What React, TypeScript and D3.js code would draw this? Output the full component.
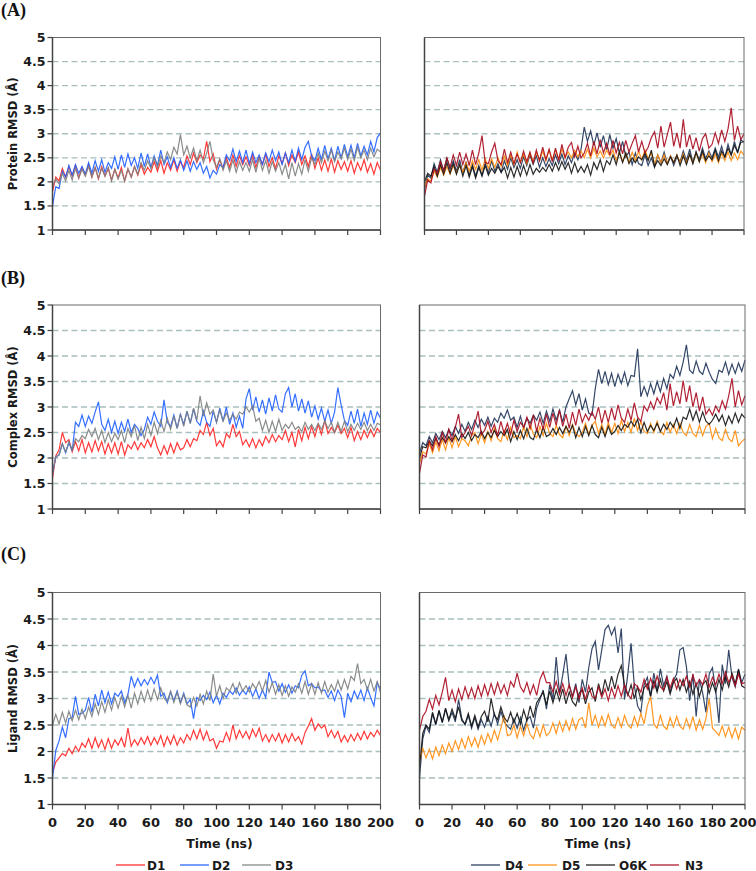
import React from 'react';
import * as d3 from 'd3';

const TIME_STEP = 2;
const TIME_MAX = 200;
const X_TICKS = [0, 20, 40, 60, 80, 100, 120, 140, 160, 180, 200];
const Y_TICKS = [1, 1.5, 2, 2.5, 3, 3.5, 4, 4.5, 5];
const GRID_VALUES = [1.5, 2, 2.5, 3, 3.5, 4, 4.5];
const PANEL_LABELS = ['(A)', '(B)', '(C)'];
const Y_TITLES = ['Protein RMSD (Å)', 'Complex RMSD (Å)', 'Ligand RMSD (Å)'];
const X_TITLE = 'Time (ns)';
const LEFT_SERIES = ['D1', 'D2', 'D3'];
const RIGHT_SERIES = ['D4', 'D5', 'O6K', 'N3'];
const COLORS: Record<string, string> = {
  D1: '#ff2424',
  D2: '#1f5fff',
  D3: '#7d8080',
  D4: '#1f3358',
  D5: '#ff8c0a',
  O6K: '#141414',
  N3: '#a80a1e',
};

// ---------------- (A) Protein RMSD ----------------
const PROTEIN_D1 = [
  1.80, 2.10, 2.02, 2.28, 2.10, 2.32, 2.12, 2.34, 2.08, 2.30,
  2.14, 2.36, 2.10, 2.30, 2.06, 2.32, 2.12, 2.28, 2.04, 2.26,
  2.08, 2.30, 2.02, 2.26, 2.10, 2.32, 2.14, 2.36, 2.16, 2.30,
  2.20, 2.42, 2.22, 2.44, 2.18, 2.40, 2.24, 2.46, 2.22, 2.42,
  2.30, 2.54, 2.36, 2.60, 2.40, 2.56, 2.48, 2.84, 2.42, 2.58,
  2.26, 2.46, 2.28, 2.50, 2.30, 2.56, 2.32, 2.54, 2.36, 2.52,
  2.34, 2.56, 2.30, 2.52, 2.36, 2.58, 2.32, 2.50, 2.28, 2.54,
  2.38, 2.60, 2.34, 2.56, 2.40, 2.62, 2.36, 2.54, 2.32, 2.58,
  2.28, 2.50, 2.24, 2.46, 2.22, 2.48, 2.20, 2.44, 2.26, 2.42,
  2.22, 2.44, 2.18, 2.40, 2.24, 2.46, 2.20, 2.38, 2.16, 2.40,
  2.24,
];
const PROTEIN_D2 = [
  1.50, 1.90, 1.86, 2.22, 2.10, 2.34, 2.14, 2.36, 2.18, 2.32,
  2.16, 2.40, 2.18, 2.44, 2.22, 2.46, 2.20, 2.40, 2.28, 2.52,
  2.26, 2.56, 2.30, 2.58, 2.34, 2.50, 2.28, 2.60, 2.32, 2.58,
  2.30, 2.54, 2.34, 2.66, 2.36, 2.52, 2.30, 2.50, 2.28, 2.46,
  2.24, 2.44, 2.22, 2.42, 2.26, 2.40, 2.18, 2.32, 2.08, 2.24,
  2.16, 2.36, 2.30, 2.56, 2.44, 2.68, 2.42, 2.64, 2.40, 2.66,
  2.38, 2.62, 2.40, 2.56, 2.36, 2.60, 2.42, 2.66, 2.44, 2.62,
  2.36, 2.60, 2.40, 2.66, 2.42, 2.70, 2.46, 2.72, 2.84, 2.54,
  2.44, 2.70, 2.46, 2.76, 2.48, 2.70, 2.44, 2.74, 2.50, 2.78,
  2.52, 2.76, 2.50, 2.80, 2.54, 2.74, 2.56, 2.84, 2.62, 2.92,
  3.02,
];
const PROTEIN_D3 = [
  1.90, 2.06, 1.96, 2.18, 2.02, 2.24, 2.04, 2.28, 2.08, 2.26,
  2.12, 2.32, 2.10, 2.30, 2.08, 2.28, 2.12, 2.30, 2.02, 2.26,
  2.06, 2.24, 2.02, 2.28, 2.10, 2.32, 2.16, 2.40, 2.24, 2.44,
  2.28, 2.50, 2.30, 2.54, 2.40, 2.62, 2.46, 2.72, 2.58, 2.98,
  2.56, 2.74, 2.50, 2.70, 2.44, 2.66, 2.40, 2.60, 2.84, 2.46,
  2.30, 2.48, 2.24, 2.44, 2.22, 2.46, 2.20, 2.42, 2.24, 2.40,
  2.22, 2.46, 2.20, 2.50, 2.24, 2.44, 2.18, 2.42, 2.22, 2.40,
  2.16, 2.36, 2.06, 2.40, 2.12, 2.38, 2.16, 2.46, 2.22, 2.50,
  2.36, 2.60, 2.40, 2.64, 2.44, 2.66, 2.42, 2.62, 2.48, 2.70,
  2.46, 2.68, 2.44, 2.72, 2.50, 2.66, 2.46, 2.70, 2.52, 2.68,
  2.62,
];
const PROTEIN_D4 = [
  1.85, 2.14, 2.08, 2.38, 2.20, 2.46, 2.22, 2.50, 2.26, 2.44,
  2.22, 2.46, 2.18, 2.42, 2.14, 2.36, 2.12, 2.34, 2.14, 2.40,
  2.18, 2.44, 2.22, 2.38, 2.20, 2.44, 2.26, 2.50, 2.30, 2.46,
  2.28, 2.52, 2.34, 2.56, 2.36, 2.54, 2.30, 2.50, 2.32, 2.48,
  2.34, 2.56, 2.38, 2.58, 2.36, 2.54, 2.40, 2.60, 2.46, 2.68,
  3.14, 2.84, 3.06, 2.76, 3.02, 2.72, 2.96, 2.66, 2.98, 2.70,
  2.90, 2.60, 2.84, 2.52, 2.62, 2.36, 2.60, 2.38, 2.34, 2.56,
  2.34, 2.50, 2.30, 2.56, 2.40, 2.62, 2.38, 2.54, 2.34, 2.52,
  2.42, 2.64, 2.44, 2.68, 2.40, 2.62, 2.46, 2.70, 2.48, 2.64,
  2.50, 2.70, 2.52, 2.74, 2.50, 2.78, 2.56, 2.84, 2.60, 2.88,
  2.82,
];
const PROTEIN_D5 = [
  1.90, 2.06, 2.02, 2.22, 2.10, 2.30, 2.14, 2.32, 2.16, 2.34,
  2.18, 2.36, 2.20, 2.40, 2.22, 2.44, 2.26, 2.46, 2.24, 2.48,
  2.28, 2.48, 2.30, 2.50, 2.32, 2.54, 2.34, 2.56, 2.36, 2.62,
  2.40, 2.58, 2.38, 2.60, 2.42, 2.62, 2.44, 2.64, 2.44, 2.66,
  2.46, 2.66, 2.48, 2.68, 2.50, 2.62, 2.50, 2.66, 2.52, 2.64,
  2.50, 2.68, 2.50, 2.70, 2.52, 2.64, 2.50, 2.66, 2.54, 2.66,
  2.44, 2.62, 2.42, 2.60, 2.40, 2.62, 2.44, 2.64, 2.46, 2.66,
  2.48, 2.60, 2.38, 2.56, 2.40, 2.56, 2.38, 2.54, 2.40, 2.56,
  2.40, 2.58, 2.40, 2.56, 2.40, 2.60, 2.42, 2.58, 2.40, 2.60,
  2.42, 2.58, 2.40, 2.60, 2.44, 2.62, 2.44, 2.60, 2.46, 2.64,
  2.56,
];
const PROTEIN_O6K = [
  2.00, 2.18, 2.12, 2.32, 2.12, 2.36, 2.16, 2.40, 2.18, 2.38,
  2.16, 2.36, 2.12, 2.34, 2.10, 2.32, 2.08, 2.30, 2.12, 2.34,
  2.14, 2.28, 2.18, 2.32, 2.20, 2.30, 2.08, 2.30, 2.10, 2.32,
  2.12, 2.34, 2.14, 2.36, 2.16, 2.28, 2.20, 2.30, 2.22, 2.36,
  2.22, 2.40, 2.24, 2.42, 2.26, 2.40, 2.18, 2.40, 2.20, 2.32,
  2.20, 2.36, 2.14, 2.40, 2.26, 2.46, 2.22, 2.44, 2.36, 2.56,
  2.36, 2.62, 2.40, 2.60, 2.38, 2.50, 2.40, 2.52, 2.46, 2.60,
  2.44, 2.66, 2.32, 2.44, 2.34, 2.48, 2.36, 2.52, 2.40, 2.56,
  2.34, 2.54, 2.36, 2.58, 2.38, 2.62, 2.42, 2.64, 2.44, 2.54,
  2.46, 2.66, 2.44, 2.64, 2.52, 2.70, 2.56, 2.76, 2.62, 2.82,
  2.84,
];
const PROTEIN_N3 = [
  1.70, 2.04, 1.98, 2.26, 2.18, 2.42, 2.24, 2.50, 2.30, 2.56,
  2.34, 2.62, 2.36, 2.58, 2.34, 2.66, 2.36, 2.60, 2.96, 2.40,
  2.38, 2.62, 2.80, 2.44, 2.36, 2.68, 2.40, 2.62, 2.38, 2.58,
  2.40, 2.64, 2.42, 2.62, 2.38, 2.66, 2.44, 2.72, 2.46, 2.68,
  2.42, 2.70, 2.44, 2.78, 2.50, 2.72, 2.82, 2.52, 2.74, 2.50,
  2.60, 2.80, 2.54, 2.84, 2.58, 2.88, 2.60, 2.80, 2.56, 2.86,
  2.60, 2.82, 2.58, 2.86, 2.62, 2.80, 2.96, 2.62, 2.84, 2.60,
  2.72, 2.92, 3.04, 2.70, 3.16, 2.72, 2.98, 3.24, 2.74, 3.02,
  2.70, 3.30, 2.72, 2.98, 2.68, 2.92, 2.64, 2.90, 3.00, 2.70,
  2.78, 3.02, 2.80, 3.08, 2.84, 3.10, 3.54, 2.86, 3.16, 2.88,
  3.00,
];

// ---------------- (B) Complex RMSD ----------------
const COMPLEX_D1 = [
  1.60, 2.04, 2.16, 2.50, 2.30, 2.36, 2.12, 2.32, 2.14, 2.36,
  2.10, 2.30, 2.12, 2.34, 2.14, 2.32, 2.08, 2.28, 2.10, 2.30,
  2.08, 2.32, 2.06, 2.26, 2.18, 2.32, 2.16, 2.30, 2.20, 2.36,
  2.22, 2.42, 2.20, 2.06, 2.24, 2.08, 2.28, 2.10, 2.30, 2.16,
  2.20, 2.36, 2.22, 2.38, 2.34, 2.54, 2.46, 2.70, 2.44, 2.58,
  2.24, 2.34, 2.22, 2.48, 2.40, 2.66, 2.42, 2.52, 2.26, 2.36,
  2.22, 2.38, 2.20, 2.36, 2.24, 2.42, 2.30, 2.46, 2.32, 2.44,
  2.36, 2.54, 2.32, 2.50, 2.22, 2.56, 2.34, 2.60, 2.38, 2.62,
  2.42, 2.66, 2.46, 2.74, 2.48, 2.60, 2.50, 2.64, 2.48, 2.58,
  2.40, 2.60, 2.34, 2.52, 2.36, 2.54, 2.40, 2.56, 2.42, 2.58,
  2.50,
];
const COMPLEX_D2 = [
  1.70, 2.02, 2.06, 2.28, 2.10, 2.30, 2.14, 2.70, 2.62, 2.84,
  2.62, 2.82, 2.68, 2.90, 3.10, 2.66, 2.54, 2.76, 2.50, 2.72,
  2.48, 2.70, 2.52, 2.76, 2.50, 2.66, 2.58, 2.44, 2.56, 2.80,
  2.66, 2.90, 2.72, 2.62, 3.14, 2.70, 2.62, 2.84, 2.58, 2.86,
  2.66, 2.92, 2.68, 2.96, 2.72, 2.64, 2.92, 2.70, 2.62, 2.92,
  2.70, 2.98, 2.72, 3.00, 2.66, 2.88, 2.60, 2.82, 2.58, 3.16,
  3.36, 2.94, 3.20, 2.90, 3.14, 2.86, 3.18, 2.92, 3.24, 2.96,
  2.90, 3.26, 3.38, 3.00, 3.26, 2.92, 3.16, 2.88, 3.12, 2.80,
  3.02, 2.76, 2.98, 2.72, 2.94, 2.68, 2.90, 3.38, 3.04, 2.74,
  2.64, 2.92, 2.68, 2.96, 2.62, 2.88, 2.66, 2.94, 2.68, 2.90,
  2.78,
];
const COMPLEX_D3 = [
  1.70, 2.02, 2.06, 2.28, 2.12, 2.32, 2.16, 2.38, 2.32, 2.44,
  2.38, 2.56, 2.42, 2.58, 2.36, 2.54, 2.30, 2.50, 2.32, 2.48,
  2.36, 2.54, 2.30, 2.58, 2.42, 2.64, 2.34, 2.60, 2.38, 2.66,
  2.44, 2.70, 2.48, 2.74, 2.52, 2.78, 2.56, 2.82, 2.58, 2.86,
  2.62, 2.92, 2.68, 2.98, 2.74, 3.22, 2.82, 3.08, 2.86, 2.94,
  2.70, 2.94, 2.72, 2.88, 2.74, 2.86, 2.76, 2.90, 2.86, 3.00,
  2.90, 3.02, 2.72, 2.78, 2.54, 2.74, 2.50, 2.72, 2.52, 2.76,
  2.54, 2.66, 2.58, 2.70, 2.56, 2.62, 2.52, 2.70, 2.56, 2.66,
  2.54, 2.68, 2.56, 2.72, 2.58, 2.70, 2.50, 2.70, 2.52, 2.72,
  2.52, 2.66, 2.54, 2.68, 2.56, 2.70, 2.54, 2.66, 2.54, 2.68,
  2.65,
];
const COMPLEX_D4 = [
  2.10, 2.30, 2.24, 2.42, 2.30, 2.48, 2.36, 2.52, 2.40, 2.56,
  2.44, 2.62, 2.48, 2.66, 2.52, 2.70, 2.56, 2.74, 2.60, 2.76,
  2.64, 2.80, 2.62, 2.78, 2.70, 2.88, 2.78, 2.94, 2.74, 2.80,
  2.60, 2.82, 2.58, 2.78, 2.68, 2.84, 2.74, 2.90, 2.68, 2.92,
  2.72, 2.96, 2.74, 2.94, 2.70, 3.00, 3.16, 3.32, 3.04, 3.26,
  2.94, 3.16, 2.88, 2.84, 3.36, 3.74, 3.46, 3.70, 3.44, 3.66,
  3.40, 3.64, 3.46, 3.68, 3.42, 3.62, 3.60, 4.14, 3.20, 3.40,
  3.22, 3.46, 3.26, 3.50, 3.30, 3.56, 3.36, 3.64, 3.56, 3.80,
  3.62, 3.88, 4.22, 3.72, 3.66, 3.90, 3.70, 3.64, 3.86, 3.68,
  3.54, 3.46, 3.72, 3.68, 3.88, 3.64, 3.84, 3.66, 3.86, 3.70,
  3.92,
];
const COMPLEX_D5 = [
  1.90, 2.12, 2.08, 2.28, 2.10, 2.32, 2.14, 2.36, 2.16, 2.40,
  2.20, 2.42, 2.22, 2.38, 2.34, 2.24, 2.44, 2.50, 2.28, 2.48,
  2.30, 2.52, 2.34, 2.58, 2.38, 2.32, 2.54, 2.36, 2.60, 2.40,
  2.44, 2.38, 2.62, 2.42, 2.66, 2.46, 2.40, 2.62, 2.44, 2.68,
  2.48, 2.42, 2.64, 2.46, 2.40, 2.62, 2.44, 2.66, 2.48, 2.42,
  2.50, 2.68, 2.46, 2.64, 2.72, 2.48, 2.66, 2.46, 2.70, 2.50,
  2.68, 2.48, 2.74, 2.52, 2.70, 2.50, 2.78, 2.54, 2.72, 2.52,
  2.48, 2.68, 2.50, 2.72, 2.52, 2.46, 2.70, 2.50, 2.66, 2.48,
  2.68, 2.50, 2.44, 2.66, 2.48, 2.42, 2.64, 2.44, 2.62, 2.68,
  2.38, 2.58, 2.40, 2.34, 2.56, 2.38, 2.32, 2.54, 2.24, 2.32,
  2.38,
];
const COMPLEX_O6K = [
  2.00, 2.22, 2.20, 2.34, 2.24, 2.38, 2.26, 2.40, 2.30, 2.42,
  2.32, 2.46, 2.34, 2.48, 2.38, 2.50, 2.34, 2.46, 2.40, 2.52,
  2.38, 2.50, 2.40, 2.54, 2.42, 2.52, 2.44, 2.56, 2.32, 2.52,
  2.36, 2.54, 2.38, 2.58, 2.40, 2.36, 2.56, 2.40, 2.60, 2.42,
  2.46, 2.58, 2.46, 2.60, 2.48, 2.62, 2.50, 2.64, 2.40, 2.60,
  2.42, 2.62, 2.44, 2.64, 2.46, 2.40, 2.60, 2.42, 2.62, 2.46,
  2.52, 2.64, 2.54, 2.66, 2.60, 2.72, 2.62, 2.76, 2.50, 2.70,
  2.52, 2.64, 2.54, 2.68, 2.52, 2.66, 2.56, 2.70, 2.60, 2.78,
  2.58, 2.80, 2.76, 2.96, 2.74, 2.92, 2.70, 2.90, 2.72, 2.66,
  2.74, 2.86, 2.72, 2.84, 2.64, 2.82, 2.68, 2.88, 2.70, 2.86,
  2.78,
];
const COMPLEX_N3 = [
  1.70, 2.06, 2.02, 2.34, 2.16, 2.42, 2.22, 2.50, 2.30, 2.56,
  2.34, 2.60, 2.86, 2.40, 2.50, 2.62, 2.44, 2.66, 2.92, 2.46,
  2.54, 2.72, 2.50, 2.66, 2.44, 2.72, 2.48, 2.68, 2.46, 2.74,
  2.52, 2.70, 2.60, 2.80, 2.58, 2.84, 2.52, 2.78, 2.56, 2.86,
  2.60, 2.88, 2.64, 2.94, 2.62, 2.86, 2.58, 2.90, 2.64, 2.96,
  2.70, 2.86, 2.74, 2.90, 2.76, 3.00, 2.68, 2.94, 2.70, 2.98,
  2.74, 3.04, 2.78, 2.70, 2.96, 2.74, 3.08, 2.80, 2.72, 3.02,
  2.92, 3.10, 2.96, 3.18, 3.06, 3.28, 2.94, 3.46, 3.02, 3.30,
  3.06, 3.52, 3.10, 3.42, 3.00, 3.28, 2.92, 3.20, 2.86, 2.96,
  2.84, 3.02, 2.90, 3.12, 2.96, 3.22, 3.56, 3.00, 3.32, 3.04,
  3.22,
];

// ---------------- (C) Ligand RMSD ----------------
const LIGAND_D1 = [
  1.60, 1.80, 1.88, 1.96, 1.92, 2.06, 1.96, 2.10, 2.00, 2.16,
  2.08, 2.24, 2.06, 2.26, 2.08, 2.22, 2.04, 2.24, 2.06, 2.22,
  2.12, 2.26, 2.08, 2.44, 2.10, 2.22, 2.12, 2.26, 2.14, 2.28,
  2.12, 2.26, 2.14, 2.30, 2.10, 2.28, 2.14, 2.30, 2.12, 2.26,
  2.16, 2.32, 2.22, 2.40, 2.24, 2.42, 2.22, 2.38, 2.20, 2.24,
  2.06, 2.20, 2.18, 2.36, 2.20, 2.50, 2.24, 2.40, 2.26, 2.38,
  2.24, 2.42, 2.28, 2.44, 2.20, 2.32, 2.18, 2.32, 2.20, 2.34,
  2.16, 2.32, 2.18, 2.34, 2.20, 2.28, 2.14, 2.36, 2.48, 2.62,
  2.40, 2.52, 2.44, 2.50, 2.28, 2.40, 2.26, 2.38, 2.18, 2.30,
  2.18, 2.32, 2.20, 2.34, 2.22, 2.38, 2.24, 2.36, 2.28, 2.40,
  2.30,
];
const LIGAND_D2 = [
  1.50, 2.02, 2.20, 2.46, 2.26, 2.62, 2.64, 3.04, 2.70, 2.72,
  2.78, 3.02, 2.74, 3.08, 2.86, 3.16, 2.92, 3.12, 2.90, 3.10,
  3.04, 3.14, 2.92, 3.08, 3.42, 3.22, 3.38, 3.24, 3.36, 3.26,
  3.40, 3.28, 3.44, 3.04, 3.10, 2.92, 3.12, 2.96, 3.14, 2.92,
  3.10, 2.90, 2.98, 2.62, 3.02, 2.96, 3.06, 2.98, 3.12, 2.92,
  3.06, 2.90, 3.10, 3.02, 3.14, 3.08, 3.20, 3.06, 3.16, 3.08,
  3.22, 3.04, 3.18, 3.00, 3.16, 3.02, 3.50, 3.30, 3.32, 3.14,
  3.28, 3.12, 3.26, 3.10, 3.24, 3.20, 3.44, 3.52, 3.24, 3.28,
  3.20, 3.22, 3.14, 3.16, 3.02, 3.14, 2.96, 3.16, 3.04, 2.64,
  3.10, 2.94, 3.14, 3.00, 3.16, 2.96, 3.20, 3.02, 2.86, 3.30,
  3.18,
];
const LIGAND_D3 = [
  2.50, 2.70, 2.52, 2.74, 2.54, 2.76, 2.58, 2.78, 2.60, 2.80,
  2.62, 2.84, 2.66, 2.90, 2.70, 2.94, 2.74, 2.98, 2.78, 3.02,
  2.82, 3.04, 2.84, 3.06, 2.82, 3.10, 2.90, 3.14, 2.94, 3.16,
  2.96, 3.18, 2.98, 3.20, 3.00, 2.94, 3.14, 2.92, 3.12, 2.90,
  3.08, 2.88, 2.84, 3.02, 2.86, 3.08, 2.90, 3.14, 2.96, 3.46,
  3.04, 3.24, 3.00, 3.20, 3.14, 3.28, 3.10, 3.30, 3.14, 3.24,
  3.12, 3.28, 3.18, 3.32, 3.14, 3.34, 3.12, 3.30, 3.08, 3.26,
  3.06, 3.24, 3.04, 3.22, 3.12, 3.28, 3.10, 3.32, 3.08, 3.28,
  3.08, 3.30, 3.10, 3.32, 3.12, 3.26, 3.14, 3.34, 3.16, 3.36,
  3.18, 3.42, 3.34, 3.66, 3.28, 3.36, 3.16, 3.36, 3.14, 3.32,
  3.10,
];
const LIGAND_D4 = [
  1.50, 2.24, 2.48, 2.36, 2.72, 2.50, 2.76, 2.54, 2.80, 2.58,
  2.74, 2.56, 2.98, 2.62, 2.50, 2.68, 2.44, 2.64, 2.42, 2.60,
  2.46, 2.66, 2.48, 2.72, 2.52, 2.76, 2.56, 2.48, 2.42, 2.62,
  2.44, 2.64, 2.40, 2.60, 2.66, 2.44, 2.82, 2.98, 3.16, 2.80,
  3.26, 2.98, 3.78, 3.10, 3.44, 3.84, 3.24, 3.04, 3.28, 2.92,
  3.36, 3.12, 3.58, 3.94, 4.08, 3.54, 3.92, 4.30, 4.38, 4.20,
  4.34, 3.86, 4.32, 2.98, 3.46, 4.04, 3.24, 2.86, 2.74, 3.26,
  3.40, 3.04, 3.48, 3.14, 3.56, 3.24, 3.42, 3.12, 3.34, 3.46,
  3.92, 3.96, 3.60, 2.96, 3.46, 2.66, 3.36, 3.10, 2.74, 3.46,
  3.58, 3.14, 2.54, 3.64, 3.28, 3.92, 3.40, 3.22, 3.56, 3.30,
  3.46,
];
const LIGAND_D5 = [
  1.80, 2.06, 1.88, 2.04, 1.86, 2.08, 1.92, 2.12, 1.96, 2.16,
  2.00, 2.20, 2.04, 2.24, 2.06, 2.28, 2.10, 2.26, 2.08, 2.30,
  2.14, 2.34, 2.18, 2.40, 2.22, 2.44, 2.68, 2.30, 2.32, 2.50,
  2.26, 2.48, 2.30, 2.52, 2.32, 2.24, 2.46, 2.28, 2.50, 2.30,
  2.36, 2.54, 2.34, 2.56, 2.38, 2.58, 2.40, 2.62, 2.42, 2.60,
  2.64, 2.44, 2.92, 2.50, 2.68, 2.46, 2.66, 2.48, 2.70, 2.50,
  2.44, 2.64, 2.46, 2.68, 2.50, 2.44, 2.66, 2.48, 2.72, 2.52,
  2.86, 3.04, 2.52, 2.44, 2.68, 2.48, 2.42, 2.64, 2.46, 2.66,
  2.48, 2.42, 2.62, 2.44, 2.66, 2.40, 2.60, 2.42, 2.62, 3.00,
  2.44, 2.38, 2.30, 2.48, 2.28, 2.46, 2.26, 2.44, 2.24, 2.46,
  2.40,
];
const LIGAND_O6K = [
  1.70, 2.34, 2.50, 2.42, 2.74, 2.52, 2.78, 2.56, 2.82, 2.60,
  2.80, 2.62, 2.84, 2.58, 2.52, 2.72, 2.48, 2.68, 2.46, 2.66,
  2.76, 2.56, 3.00, 2.68, 2.60, 2.84, 2.64, 2.56, 2.74, 2.54,
  2.72, 2.52, 2.78, 2.58, 2.86, 2.64, 2.92, 3.02, 3.12, 2.88,
  3.14, 2.92, 3.16, 2.96, 3.18, 2.90, 3.12, 2.94, 2.86, 3.10,
  3.16, 2.90, 3.12, 3.20, 2.94, 3.28, 3.06, 3.36, 3.14, 3.42,
  3.18, 3.46, 3.62, 3.24, 3.06, 3.26, 3.00, 3.22, 2.98, 3.20,
  3.28, 3.04, 3.34, 3.12, 3.36, 3.14, 3.32, 3.08, 3.30, 3.38,
  3.16, 3.36, 3.12, 3.32, 3.08, 3.28, 3.04, 3.26, 3.34, 3.10,
  3.30, 3.12, 3.36, 3.16, 3.42, 3.22, 3.48, 3.28, 3.54, 3.24,
  3.20,
];
const LIGAND_N3 = [
  2.40, 2.66, 2.76, 2.98, 2.80, 3.06, 2.88, 3.12, 3.40, 2.96,
  3.16, 2.94, 3.18, 2.98, 3.22, 3.02, 3.20, 3.00, 3.24, 3.04,
  3.26, 3.06, 3.28, 3.08, 3.30, 3.10, 3.26, 3.06, 3.32, 3.22,
  3.48, 3.22, 3.12, 3.30, 3.08, 3.26, 3.06, 3.36, 3.50, 3.30,
  3.30, 3.12, 3.32, 3.08, 3.28, 3.06, 3.26, 3.02, 3.22, 3.00,
  3.20, 2.98, 3.24, 3.04, 3.00, 3.22, 3.02, 3.18, 2.96, 3.20,
  3.02, 3.24, 3.04, 3.26, 3.08, 3.00, 3.28, 3.22, 3.12, 3.36,
  3.18, 3.38, 3.20, 3.42, 3.22, 3.16, 3.40, 3.20, 3.38, 3.18,
  3.36, 3.24, 3.42, 3.22, 3.44, 3.24, 3.36, 3.26, 3.46, 3.22,
  3.40, 3.26, 3.46, 3.28, 3.50, 3.30, 3.44, 3.24, 3.46, 3.28,
  3.30,
];

const ROWS: Record<string, number[]>[] = [
  { D1: PROTEIN_D1, D2: PROTEIN_D2, D3: PROTEIN_D3, D4: PROTEIN_D4, D5: PROTEIN_D5, O6K: PROTEIN_O6K, N3: PROTEIN_N3 },
  { D1: COMPLEX_D1, D2: COMPLEX_D2, D3: COMPLEX_D3, D4: COMPLEX_D4, D5: COMPLEX_D5, O6K: COMPLEX_O6K, N3: COMPLEX_N3 },
  { D1: LIGAND_D1, D2: LIGAND_D2, D3: LIGAND_D3, D4: LIGAND_D4, D5: LIGAND_D5, O6K: LIGAND_O6K, N3: LIGAND_N3 },
];

// layout
const W = 756;
const H = 871;
const ROW_TOP = [37.5, 305, 592.5];
const ROW_BOTTOM = [230, 509, 804.5];
const LEFT_X = [52.5, 380.5];
const RIGHT_X = [[424.5, 744], [419.5, 745], [419.5, 745]];
const LABEL_Y = [16, 284, 560];
const FONT = "'DejaVu Sans', sans-serif";

type PanelProps = {
  x0: number; x1: number; y0: number; y1: number;
  names: string[]; data: Record<string, number[]>;
  yLabels: boolean; xLabels: boolean; yTitle?: string;
};

function Panel({ x0, x1, y0, y1, names, data, yLabels, xLabels, yTitle }: PanelProps) {
  const x = d3.scaleLinear().domain([0, TIME_MAX]).range([x0, x1]);
  const y = d3.scaleLinear().domain([1, 5]).range([y1, y0]);
  const line = d3.line<number>().x((_, i) => x(i * TIME_STEP)).y((d) => y(d));
  return (
    <g>
      {GRID_VALUES.map((v) => (
        <line key={v} x1={x0} x2={x1} y1={y(v)} y2={y(v)} stroke="#a9bfc0" strokeWidth={1.3} strokeDasharray="6,3.5" />
      ))}
      {names.map((n) => (
        <path key={n} d={line(data[n]) || ''} fill="none" stroke={COLORS[n]} strokeWidth={1.2} strokeOpacity={0.9} strokeLinejoin="miter" />
      ))}
      <rect x={x0} y={y0} width={x1 - x0} height={y1 - y0} fill="none" stroke="#6a6a6a" strokeWidth={1} />
      <line x1={x0} x2={x0} y1={y0} y2={y1 + 0.5} stroke="#444" strokeWidth={1.5} />
      <line x1={x0} x2={x1} y1={y1} y2={y1} stroke="#444" strokeWidth={1.5} />
      {X_TICKS.map((t) => (
        <line key={t} x1={x(t)} x2={x(t)} y1={y1} y2={y1 + 5} stroke="#444" strokeWidth={1.2} />
      ))}
      {yLabels && Y_TICKS.map((v) => (
        <g key={v}>
          <line x1={x0 - 5} x2={x0} y1={y(v)} y2={y(v)} stroke="#444" strokeWidth={1.2} />
          <text x={x0 - 7} y={y(v)} dy="0.36em" textAnchor="end" fontFamily={FONT} fontWeight="bold" fontSize={12.5} fill="#1a1a1a">{v}</text>
        </g>
      ))}
      {xLabels && X_TICKS.map((t) => (
        <text key={t} x={Math.min(x(t), W - 13)} y={y1 + 22} textAnchor="middle" fontFamily={FONT} fontWeight="bold" fontSize={13} fill="#1a1a1a">{t}</text>
      ))}
      {yTitle && (
        <text transform={`translate(17,${(y0 + y1) / 2}) rotate(-90)`} textAnchor="middle" fontFamily={FONT} fontWeight="bold" fontSize={11.5} fill="#1a1a1a">{yTitle}</text>
      )}
    </g>
  );
}

const LEGEND_LEFT = [
  { name: 'D1', lx: 116, tx: 147 },
  { name: 'D2', lx: 180, tx: 212 },
  { name: 'D3', lx: 242, tx: 275 },
];
const LEGEND_RIGHT = [
  { name: 'D4', lx: 471, tx: 505 },
  { name: 'D5', lx: 528, tx: 562 },
  { name: 'O6K', lx: 586, tx: 619 },
  { name: 'N3', lx: 650, tx: 685 },
];

export default function App() {
  return (
    <svg width={W} height={H} style={{ position: 'absolute', left: 0, top: 0, background: '#fff' }}>
      <rect x={0} y={0} width={W} height={H} fill="#fff" />
      {ROWS.map((data, r) => (
        <g key={r}>
          <text x={1} y={LABEL_Y[r]} fontFamily="'Liberation Serif', 'Times New Roman', serif" fontWeight="bold" fontSize={18} fill="#111">{PANEL_LABELS[r]}</text>
          <Panel x0={LEFT_X[0]} x1={LEFT_X[1]} y0={ROW_TOP[r]} y1={ROW_BOTTOM[r]} names={LEFT_SERIES} data={data} yLabels xLabels={r === 2} yTitle={Y_TITLES[r]} />
          <Panel x0={RIGHT_X[r][0]} x1={RIGHT_X[r][1]} y0={ROW_TOP[r]} y1={ROW_BOTTOM[r]} names={RIGHT_SERIES} data={data} yLabels={false} xLabels={r === 2} />
        </g>
      ))}
      <text x={219.5} y={848} textAnchor="middle" fontFamily={FONT} fontWeight="bold" fontSize={12.5} fill="#1a1a1a">{X_TITLE}</text>
      <text x={598} y={848} textAnchor="middle" fontFamily={FONT} fontWeight="bold" fontSize={12.5} fill="#1a1a1a">{X_TITLE}</text>
      {[...LEGEND_LEFT, ...LEGEND_RIGHT].map((l) => (
        <g key={l.name}>
          <line x1={l.lx} x2={l.lx + 29} y1={865} y2={865} stroke={COLORS[l.name]} strokeWidth={1.5} strokeOpacity={0.8} />
          <text x={l.tx} y={869.5} fontFamily={FONT} fontWeight="bold" fontSize={12} fill="#1a1a1a">{l.name}</text>
        </g>
      ))}
    </svg>
  );
}
